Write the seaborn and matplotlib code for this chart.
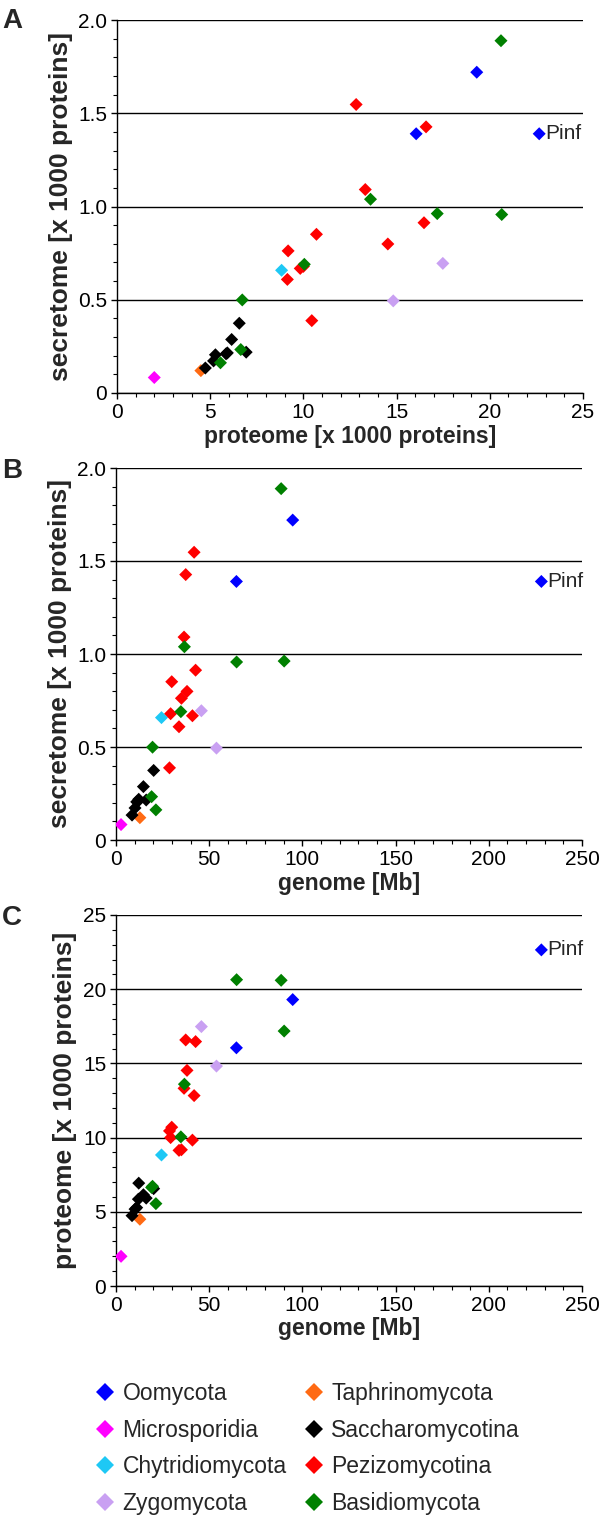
import matplotlib
matplotlib.use("Agg")
import matplotlib.pyplot as plt
from matplotlib.ticker import MultipleLocator, FuncFormatter
from matplotlib.lines import Line2D
import seaborn as sns
import pandas as pd

# ---------------- data ----------------
groups = (["Oomycota"] * 3 + ["Microsporidia"] + ["Chytridiomycota"] + ["Zygomycota"] * 2
          + ["Taphrinomycota"] + ["Saccharomycotina"] * 8 + ["Pezizomycotina"] * 11
          + ["Basidiomycota"] * 8)

genome = [228.2, 94.8, 64.6,
          2.7,
          24.4,
          45.8, 53.9,
          12.8,
          20.2, 14.7, 12.2, 8.6, 16.2, 12.0, 11.1, 10.2,
          41.9, 37.4, 36.5, 42.7, 29.9, 38.1, 35.1, 33.8, 28.7, 29.3, 41.0,
          88.6, 64.7, 90.2, 36.7, 34.8, 19.6, 19.1, 21.4]

proteome = [22.65, 19.3, 16.05,
            2.0,
            8.83,
            17.48, 14.82,
            4.5,
            6.56, 6.15, 6.93, 4.74, 5.92, 5.85, 5.28, 5.18,
            12.83, 16.58, 13.32, 16.47, 10.7, 14.53, 9.18, 9.14, 10.45, 10.0, 9.83,
            20.6, 20.64, 17.18, 13.6, 10.05, 6.72, 6.64, 5.55]

secretome = [1.390, 1.72, 1.39,
             0.083,
             0.658,
             0.695, 0.494,
             0.12,
             0.374, 0.287, 0.219, 0.134, 0.215, 0.21, 0.205, 0.172,
             1.547, 1.427, 1.091, 0.913, 0.851, 0.799, 0.762, 0.609, 0.388, 0.679, 0.668,
             1.889, 0.957, 0.962, 1.039, 0.69, 0.499, 0.233, 0.162]

point_names = ["Pinf"] + [""] * (len(groups) - 1)

group_order = ["Oomycota", "Microsporidia", "Chytridiomycota", "Zygomycota",
               "Taphrinomycota", "Saccharomycotina", "Pezizomycotina", "Basidiomycota"]
group_colors = ["#0000FF", "#FF00FF", "#1EC8F5", "#C9A0F2",
                "#FF6A13", "#000000", "#FF0000", "#008000"]

df = pd.DataFrame({"group": groups, "genome": genome, "proteome": proteome,
                   "secretome": secretome, "name": point_names})

# ---------------- style ----------------
sns.set_style("ticks")
plt.rcParams["font.family"] = ["Liberation Sans", "DejaVu Sans"]

W, H = 600, 1519
fig = plt.figure(figsize=(W / 100, H / 100), dpi=100)

def frac(left, top, right, bottom):
    return [left / W, 1 - bottom / H, (right - left) / W, (bottom - top) / H]

panels = [
    dict(rect=frac(117, 20, 583, 393), x="proteome", y="secretome",
         xlim=25, xmaj=5, xmin=1, ylim=2.0, ymaj=0.5, ymin=0.1,
         xlabel="proteome [x 1000 proteins]", ylabel="secretome [x 1000 proteins]",
         letter="A", letter_y=8),
    dict(rect=frac(116, 468, 582, 840), x="genome", y="secretome",
         xlim=250, xmaj=50, xmin=10, ylim=2.0, ymaj=0.5, ymin=0.1,
         xlabel="genome [Mb]", ylabel="secretome [x 1000 proteins]",
         letter="B", letter_y=458),
    dict(rect=frac(116, 915, 582, 1286), x="genome", y="proteome",
         xlim=250, xmaj=50, xmin=10, ylim=25, ymaj=5, ymin=1,
         xlabel="genome [Mb]", ylabel="proteome [x 1000 proteins]",
         letter="C", letter_y=905),
]

palette = dict(zip(group_order, group_colors))

for p in panels:
    ax = fig.add_axes(p["rect"])
    sns.scatterplot(data=df, x=p["x"], y=p["y"], hue="group", hue_order=group_order,
                    palette=palette, marker="D", s=44, linewidth=0, ax=ax,
                    legend=False, zorder=3)
    ax.set_xlim(0, p["xlim"])
    ax.set_ylim(0, p["ylim"])
    ax.xaxis.set_major_locator(MultipleLocator(p["xmaj"]))
    ax.xaxis.set_minor_locator(MultipleLocator(p["xmin"]))
    ax.yaxis.set_major_locator(MultipleLocator(p["ymaj"]))
    ax.yaxis.set_minor_locator(MultipleLocator(p["ymin"]))
    if p["ylim"] < 5:
        ax.yaxis.set_major_formatter(FuncFormatter(lambda v, pos: "0" if abs(v) < 1e-9 else f"{v:.1f}"))
    else:
        ax.yaxis.set_major_formatter(FuncFormatter(lambda v, pos: f"{v:.0f}"))
    ax.yaxis.grid(True, which="major", color="black", linewidth=1.0)
    ax.set_axisbelow(True)
    for side in ["top", "right"]:
        ax.spines[side].set_visible(False)
    for side in ["left", "bottom"]:
        ax.spines[side].set_color("black")
        ax.spines[side].set_linewidth(1.0)
    ax.tick_params(which="major", direction="out", length=4, width=1.0,
                   labelsize=15, colors="black", pad=3)
    ax.tick_params(which="minor", direction="out", length=3, width=0.8, colors="black")
    ax.set_xlabel(p["xlabel"], fontsize=16.5, fontweight="bold", labelpad=2)
    ax.set_ylabel(p["ylabel"], fontsize=19, fontweight="bold", labelpad=4)
    for _, row in df[df["name"] != ""].iterrows():
        ax.annotate(row["name"], (row[p["x"]], row[p["y"]]), xytext=(4, 0),
                    textcoords="offset points", va="center", ha="left", fontsize=15)
    fig.text(2 / W, 1 - p["letter_y"] / H, p["letter"], fontsize=20, fontweight="bold",
             va="top", ha="left")

handles = [Line2D([0], [0], marker="D", linestyle="none", markersize=9.5,
                  markerfacecolor=c, markeredgewidth=0, label=g)
           for g, c in zip(group_order, group_colors)]
fig.legend(handles=handles, loc="upper left", bbox_to_anchor=(95 / W, 1 - 1382 / H),
           ncol=2, frameon=False, fontsize=16.5, handlelength=0.9, handletextpad=0.3,
           labelspacing=0.6, columnspacing=0.75, borderaxespad=0, borderpad=0)

fig.savefig("out.png", dpi=100)
